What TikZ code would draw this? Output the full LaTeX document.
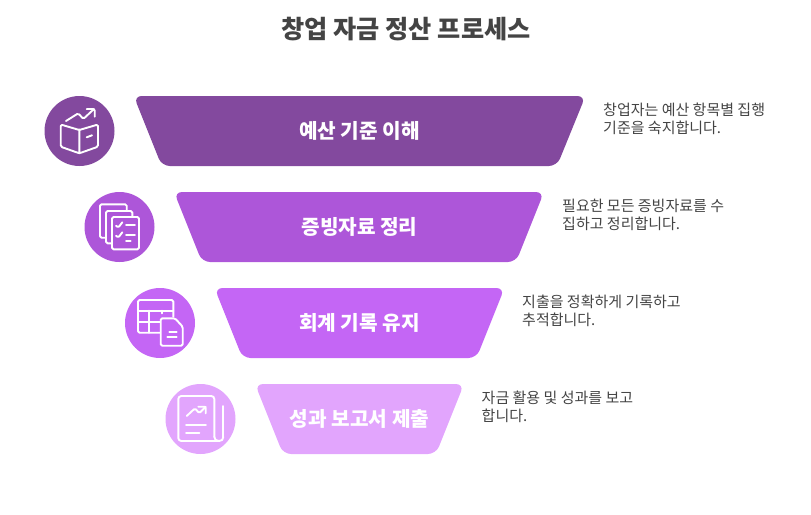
\documentclass[tikz,border=0pt]{standalone}
\usepackage{fontspec}
\setmainfont{Noto Sans CJK KR}
\usetikzlibrary{positioning}
\definecolor{stepa}{HTML}{83499E}
\definecolor{stepb}{HTML}{AD56D9}
\definecolor{stepc}{HTML}{C466F5}
\definecolor{stepd}{HTML}{E2A5FD}
\definecolor{ink}{HTML}{444444}
\tikzset{icon node/.style={circle,minimum size=70pt,inner sep=0pt},
	step label/.style={text=white,font=\fontsize{20.2}{24}\selectfont\bfseries},
	desc node/.style={text=ink,anchor=north west,align=left,inner sep=0pt,font=\fontsize{15}{18}\selectfont},
	funnel/.style={rounded corners=8pt},
	glyph/.style={draw=white,line width=1.9pt,rounded corners=1.5pt,line cap=round,line join=round},
}
\begin{document}
\begin{tikzpicture}[x=1pt,y=-1pt]
		\useasboundingbox (0,0) rectangle (811,514);
		\node[text=ink,font=\fontsize{25.2}{28}\selectfont\bfseries] (title) at (406,29) {창업 자금 정산 프로세스};
		
		\fill[stepa,funnel] (133.7,96) -- (585.5,96) -- (557,166) -- (161.7,166) -- cycle;
		\fill[stepb,funnel] (174,192) -- (544,192) -- (516,262) -- (202,262) -- cycle;
		\fill[stepc,funnel] (214.5,288) -- (504.5,288) -- (476.5,358) -- (242.5,358) -- cycle;
		\fill[stepd,funnel] (255,384) -- (464,384) -- (436,454) -- (283,454) -- cycle;
		
		\node[step label] (label1) at (359.5,131) {예산 기준 이해};
		\node[step label] (label2) at (359.5,227) {증빙자료 정리};
		\node[step label] (label3) at (359.5,323) {회계 기록 유지};
		\node[step label] (label4) at (359.5,419) {성과 보고서 제출};
		
		\node[icon node,fill=stepa] (icon1) at (79.5,131) {};
		\node[icon node,fill=stepb] (icon2) at (119.5,227) {};
		\node[icon node,fill=stepc] (icon3) at (160,323) {};
		\node[icon node,fill=stepd] (icon4) at (200.5,419) {};
		
		\node[desc node] (desc1) at (603,102.5) {창업자는 예산 항목별 집행\\기준을 숙지합니다.};
		\node[desc node] (desc2) at (562,198.5) {필요한 모든 증빙자료를 수\\집하고 정리합니다.};
		\node[desc node] (desc3) at (522,294.5) {지출을 정확하게 기록하고\\추적합니다.};
		\node[desc node] (desc4) at (481.5,390.5) {자금 활용 및 성과를 보고\\합니다.};
		
		% book
		\draw[glyph] (79.3,130) -- (60.7,124.5) -- (60.7,146.7) -- (79.3,153.3) -- (98,146.7) -- (98,124.5) -- cycle (79.3,130) -- (79.3,153.3);
		\draw[glyph] (86.7,137.3) -- (92,135.3);
		\draw[glyph] (66,121) -- (78.3,113.3) -- (83.3,119) -- (94,109);
		\draw[glyph] (86.7,109) -- (94.7,109) -- (94.7,116.7);
		
		% sheets
		\draw[glyph] (126.7,211) -- (126.7,204.3) -- (100,204.3) -- (100,237.7) -- (106,237.7);
		\draw[glyph] (132.3,217) -- (132.3,211) -- (106,211) -- (106,243.3) -- (112,243.3);
		\draw[glyph] (112,217) rectangle (139,249.3);
		\draw[glyph] (116,225.7) -- (118.3,227.7) -- (122.3,222.3) (126,225) -- (135,225);
		\draw[glyph] (116,235.7) -- (118.3,237.7) -- (122.3,232.3) (126,235) -- (135,235);
		\draw[glyph] (126,240.7) -- (130.7,240.7);
		
		% table
		\draw[glyph] (160,332.7) -- (138,332.7) -- (138,300) -- (173.3,300) -- (173.3,316.7);
		\draw[glyph] (138,310.7) -- (173.3,310.7) (138,321.7) -- (160,321.7);
		\draw[glyph] (149.3,310.7) -- (149.3,332.7) (161.7,310.7) -- (161.7,313.3);
		\draw[glyph] (160.7,318.3) -- (175,318.3) -- (182.7,326.7) -- (182.7,345.7) -- (160.7,345.7) -- cycle;
		\draw[glyph] (169.3,331.7) -- (176.7,331.7) (167.3,337.3) -- (176.7,337.3);
		
		% report
		\draw[glyph,rounded corners=3pt] (214.3,436.7) -- (214.3,396) -- (178.3,396) -- (178.3,441) -- (219,441);
		\draw[glyph] (223.3,406) -- (223.3,436.7);
		\draw[glyph] (214.3,436.7) .. controls (214.3,439.5) and (216,441) .. (219,441);
		\draw[glyph] (219,441) .. controls (222,441) and (223.3,439.5) .. (223.3,436.7);
		\draw[glyph] (186.7,416) -- (195,408.3) -- (199.3,413.3) -- (205.7,406.7);
		\draw[glyph] (198.3,406.7) -- (205.7,406.7) -- (205.7,413.3);
		\draw[glyph] (186,424.7) -- (206,424.7) (186,432.7) -- (199.3,432.7);
\end{tikzpicture}
\end{document}
